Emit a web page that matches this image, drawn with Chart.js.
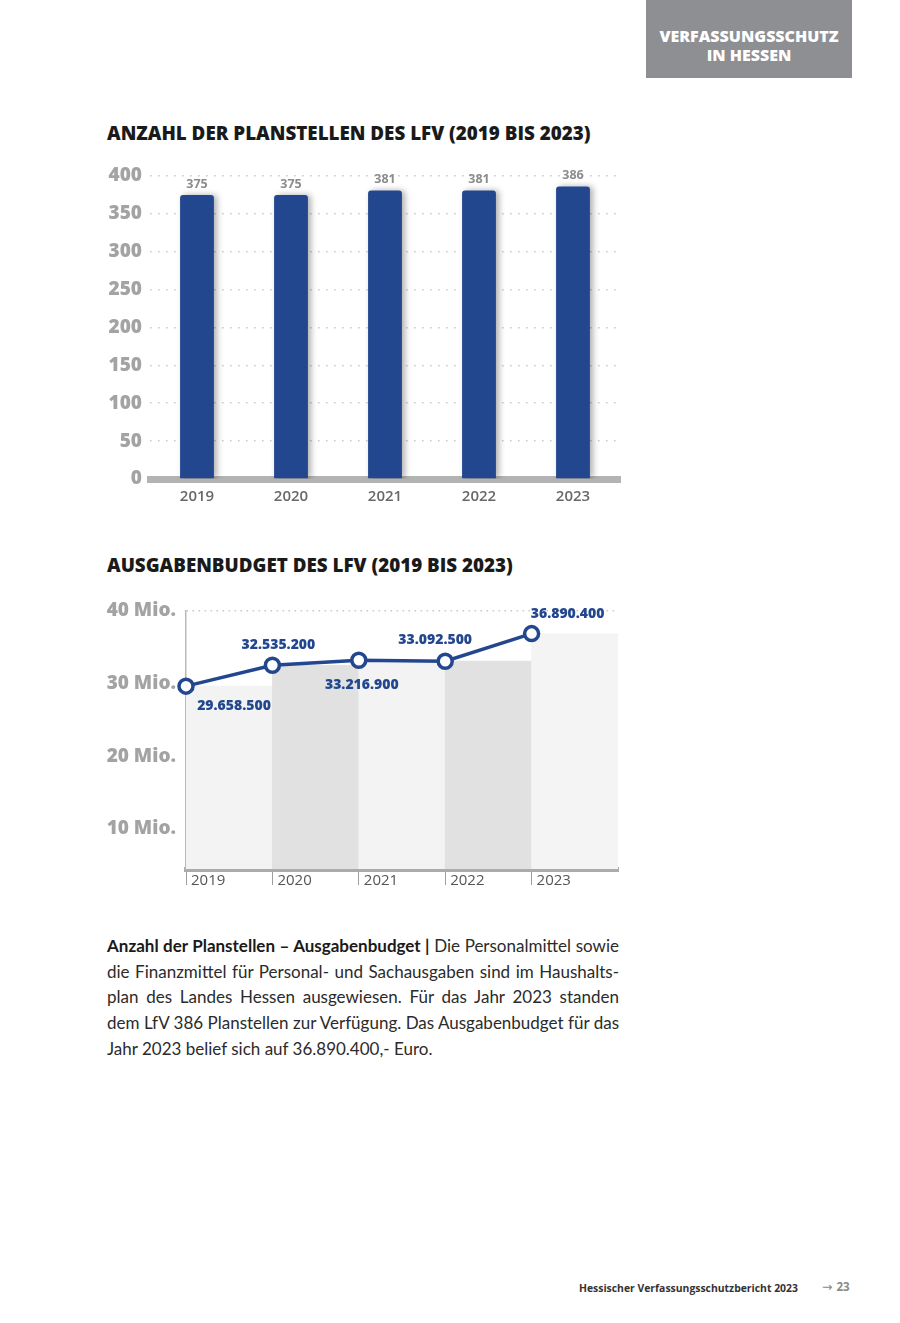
<!DOCTYPE html>
<html lang="de">
<head>
<meta charset="utf-8">
<script src="https://cdn.jsdelivr.net/npm/chart.js@4/dist/chart.umd.min.js"></script>
<style>
  html, body { margin: 0; padding: 0; background: #fff; }
  body { width: 900px; height: 1323px; position: relative; overflow: hidden; font-family: Lato, "Open Sans", sans-serif; }
  .header { position: absolute; left: 646px; top: 0; width: 206px; height: 78px; background: #8e8f93; color: #fff;
            font-family: "Open Sans", sans-serif; font-weight: 800; font-size: 16px; line-height: 19px; text-align: center;
            box-sizing: border-box; padding-top: 27px; }
  .title { position: absolute; left: 107px; font-family: "Open Sans", sans-serif; font-weight: 800; font-size: 18.8px; color: #1a1a1a; white-space: nowrap; }
  #c1wrap { position: absolute; left: 100px; top: 160px; width: 530px; height: 360px; }
  #c2wrap { position: absolute; left: 100px; top: 595px; width: 530px; height: 305px; }
  .para { position: absolute; left: 107px; top: 933px; width: 512px; font-size: 17px; line-height: 25.7px; color: #2b2b2b; font-family: Lato, sans-serif; }
  .para span.l { display: block; text-align: justify; text-align-last: justify; white-space: nowrap; }
  .para span.last { text-align: left; text-align-last: left; }
  .para b { font-weight: 700; color: #1a1a1a; }
  .footer { position: absolute; top: 1281px; left: 579px; font-family: "Open Sans", sans-serif; font-size: 10.4px; font-weight: 700; color: #333; white-space: nowrap; }
  .pg { position: absolute; top: 1279px; left: 822px; font-family: "DejaVu Sans", sans-serif; font-size: 12.5px; color: #8a8a8a; white-space: nowrap; }
  .pg b { font-family: "Open Sans", sans-serif; font-weight: 700; font-size: 11.5px; }
</style>
</head>
<body>
<div class="header">VERFASSUNGSSCHUTZ<br>IN HESSEN</div>

<div class="title" style="top:120px;">ANZAHL DER PLANSTELLEN DES LFV (2019 BIS 2023)</div>
<div id="c1wrap"><canvas id="c1" width="530" height="360"></canvas></div>

<div class="title" style="top:552px;">AUSGABENBUDGET DES LFV (2019 BIS 2023)</div>
<div id="c2wrap"><canvas id="c2" width="530" height="305"></canvas></div>

<div class="para">
  <span class="l"><b>Anzahl der Planstellen – Ausgabenbudget |</b> Die Personalmittel sowie</span>
  <span class="l">die Finanzmittel für Personal- und Sachausgaben sind im Haushalts-</span>
  <span class="l">plan des Landes Hessen ausgewiesen. Für das Jahr 2023 standen</span>
  <span class="l">dem LfV 386 Planstellen zur Verfügung. Das Ausgabenbudget für das</span>
  <span class="l last">Jahr 2023 belief sich auf 36.890.400,- Euro.</span>
</div>

<div class="footer">Hessischer Verfassungsschutzbericht 2023</div>
<div class="pg">→ <b>23</b></div>

<script>
// ---------- DATA ----------
const years = ['2019', '2020', '2021', '2022', '2023'];
const planstellen = [375, 375, 381, 381, 386];
const budget = [29658500, 32535200, 33216900, 33092500, 36890400];
const budgetLabels = ['29.658.500', '32.535.200', '33.216.900', '33.092.500', '36.890.400'];
const planstellenTicks = [0, 50, 100, 150, 200, 250, 300, 350, 400];
const budgetTicks = [10000000, 20000000, 30000000, 40000000];

// ---------- STYLE ----------
const BLUE = '#23478f';
const TICK_GREY = '#a3a3a3';
const BAND_COLORS = ['#f3f3f3', '#e1e1e1', '#f3f3f3', '#e1e1e1', '#f4f4f4'];
const LABEL_OFFSETS = [[48, 20], [6, -20], [3, 25], [-10, -21], [36, -20]];

Chart.defaults.font.family = "'Open Sans', sans-serif";

const barShadow = {
  id: 'barShadow',
  beforeDatasetsDraw(chart) {
    const ctx = chart.ctx;
    ctx.save();
    ctx.shadowColor = 'rgba(0,0,0,0.32)';
    ctx.shadowBlur = 6;
    ctx.shadowOffsetX = 3;
    ctx.shadowOffsetY = 0;
  },
  afterDatasetsDraw(chart) {
    chart.ctx.restore();
    const ctx = chart.ctx;
    const meta = chart.getDatasetMeta(0);
    ctx.save();
    ctx.font = "700 12.5px 'Open Sans', sans-serif";
    ctx.fillStyle = '#8c8c8c';
    ctx.textAlign = 'center';
    ctx.textBaseline = 'middle';
    meta.data.forEach((bar, i) => {
      ctx.fillText(String(planstellen[i]), bar.x, bar.y - 11);
    });
    ctx.restore();
  }
};

new Chart(document.getElementById('c1'), {
  type: 'bar',
  data: {
    labels: years,
    datasets: [{
      data: planstellen,
      backgroundColor: BLUE,
      barPercentage: 0.36,
      categoryPercentage: 1,
      borderRadius: { topLeft: 3, topRight: 3 },
      borderSkipped: 'bottom'
    }]
  },
  options: {
    responsive: false,
    animation: false,
    events: [],
    layout: { padding: { top: 16, right: 10, left: 0, bottom: 0 } },
    plugins: { legend: { display: false }, tooltip: { enabled: false } },
    scales: {
      x: {
        z: 1,
        grid: { display: false, drawTicks: false },
        border: { display: true, color: '#b3b3b3', width: 7 },
        ticks: { color: '#686868', font: { size: 15, weight: '600' }, padding: 9 },
        afterFit(s) { s.height = 41; }
      },
      y: {
        min: 0, max: 400,
        afterBuildTicks(s) { s.ticks = planstellenTicks.map(v => ({ value: v })); },
        grid: {
          drawTicks: false,
          color: ctx => ctx.tick && ctx.tick.value === 0 ? 'transparent' : '#c9c9c9',
          lineWidth: 1.6
        },
        border: { display: false, dash: [1.6, 6.4] },
        ticks: { color: TICK_GREY, font: { size: 19, weight: '800' }, padding: 8 },
        afterFit(s) { s.width = 50; s.paddingTop = 0; s.paddingBottom = 0; }
      }
    }
  },
  plugins: [barShadow]
});

const pointLabels = {
  id: 'pointLabels',
  afterDatasetsDraw(chart) {
    const ctx = chart.ctx;
    const meta = chart.getDatasetMeta(1);
    ctx.save();
    ctx.font = "800 14px 'Open Sans', sans-serif";
    ctx.fillStyle = BLUE;
    ctx.textAlign = 'center';
    ctx.textBaseline = 'middle';
    meta.data.forEach((pt, i) => {
      const [dx, dy] = LABEL_OFFSETS[i];
      ctx.fillText(budgetLabels[i], pt.x + dx, pt.y + dy);
    });
    ctx.restore();
  }
};

new Chart(document.getElementById('c2'), {
  type: 'bar',
  data: {
    datasets: [
      {
        type: 'bar',
        order: 2,
        data: budget.map((v, i) => ({ x: i + 0.5, y: v })),
        backgroundColor: BAND_COLORS,
        barPercentage: 1,
        categoryPercentage: 1,
        borderWidth: 0
      },
      {
        type: 'line',
        order: 1,
        data: budget.map((v, i) => ({ x: i, y: v })),
        borderColor: BLUE,
        borderWidth: 3.5,
        pointRadius: 7,
        pointBackgroundColor: '#ffffff',
        pointBorderColor: BLUE,
        pointBorderWidth: 3.5,
        tension: 0,
        clip: false
      }
    ]
  },
  options: {
    responsive: false,
    animation: false,
    events: [],
    layout: { padding: { top: 16, right: 12, left: 0, bottom: 0 } },
    plugins: { legend: { display: false }, tooltip: { enabled: false } },
    scales: {
      x: {
        type: 'linear',
        min: 0, max: years.length,
        offset: false,
        z: 1,
        afterBuildTicks(s) { s.ticks = years.map((y, i) => ({ value: i })).concat([{ value: years.length }]); },
        grid: {
          offset: false,
          drawOnChartArea: false,
          drawTicks: true,
          tickLength: 16,
          color: ctx => (ctx.tick && ctx.tick.value < years.length) ? '#9e9e9e' : 'transparent',
          lineWidth: 1
        },
        border: { display: true, color: '#ababab', width: 5 },
        ticks: {
          align: 'start',
          labelOffset: 5,
          padding: -13,
          color: '#555555',
          font: { size: 15, weight: '500' },
          callback: v => years[v] !== undefined ? years[v] : ''
        },
        afterFit(s) { s.height = 31; }
      },
      y: {
        min: 4500000, max: 40000000,
        afterBuildTicks(s) { s.ticks = budgetTicks.map(v => ({ value: v })); },
        grid: {
          drawTicks: false,
          color: ctx => ctx.tick && ctx.tick.value === 40000000 ? '#c9c9c9' : 'transparent',
          lineWidth: 1.6
        },
        border: { display: true, color: '#b9b9b9', width: 1.5, dash: [1.6, 4.4] },
        ticks: {
          color: TICK_GREY, font: { size: 19, weight: '800' }, padding: 10,
          callback: v => (v / 1000000) + ' Mio.'
        },
        afterFit(s) { s.width = 86; s.paddingTop = 0; s.paddingBottom = 0; }
      }
    }
  },
  plugins: [pointLabels]
});
</script>
</body>
</html>
